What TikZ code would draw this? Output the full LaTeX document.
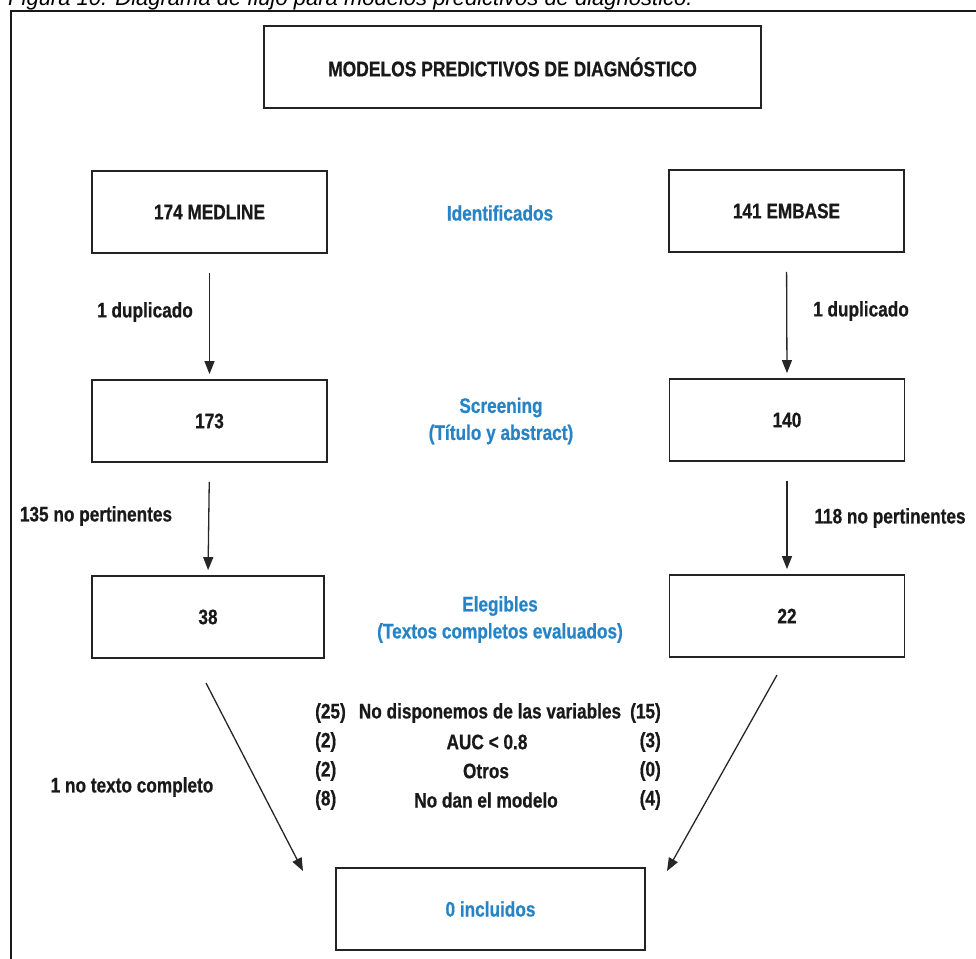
\documentclass[tikz,border=0pt]{standalone}
\usepackage{fontspec}
\setmainfont{Liberation Sans}
\newfontfamily\narfam[FakeStretch=0.82, BoldFeatures={FakeBold=0.6}]{Liberation Sans}
\usetikzlibrary{arrows.meta}
\definecolor{hblue}{RGB}{38,132,198}
\definecolor{bline}{RGB}{35,35,35}
\newcommand\myfnt{\narfam\fontsize{21}{27}\selectfont\bfseries}
\tikzset{
  box/.style={draw=bline, line width=1.8pt, minimum width=235pt, minimum height=82pt, inner sep=0pt, font=\myfnt, text=black!90},
  phase/.style={font=\myfnt, text=hblue, align=center, inner sep=0pt},
  lab/.style={font=\myfnt, text=black!90, inner sep=0pt},
  arr/.style={draw=black!85, line width=1.3pt, -{Triangle[length=13pt,width=10pt]}},
  varr/.style={arr, shorten <=19pt, shorten >=5pt},
}
\begin{document}
\begin{tikzpicture}[x=1pt,y=-1pt]
\useasboundingbox (0,0) rectangle (976,958);
% caption and frame
\node[anchor=base west, inner sep=0pt, font=\fontsize{22}{26}\selectfont\itshape] (cap) at (8,6) {Figura 10. Diagrama de flujo para modelos predictivos de diagnóstico.};
\draw[line width=2pt, black!90] (11,1000) -- (11,11) -- (1000,11);
% title
\node[box, minimum width=497pt, minimum height=82pt, font=\narfam\fontsize{21.3}{27}\selectfont\bfseries] (title) at (512.5,67) {MODELOS PREDICTIVOS DE DIAGNÓSTICO};
% row 1
\node[box] (med) at (209.5,212) {174 MEDLINE};
\node[box] (emb) at (786.5,211) {141 EMBASE};
\node[phase] (ident) at (500,213) {Identificados};
% row 2
\node[box] (l2) at (209.5,421) {173};
\node[box] (r2) at (787,420) {140};
\node[phase] (scr) at (501,421) {Screening\\(Título y abstract)};
% row 3
\node[box, minimum width=232pt] (l3) at (208,617) {38};
\node[box] (r3) at (787,616) {22};
\node[phase] (eleg) at (500,619.5) {Elegibles\\(Textos completos evaluados)};
% vertical arrows
\draw[varr] (med.south) -- (l2.north);
\draw[varr] (emb.south) -- (r2.north);
\draw[varr] (l2.south) -- (l3.north);
\draw[varr] (r2.south) -- (r3.north);
\node[lab] (dupl) at (145,312) {1 duplicado};
\node[lab] (dupr) at (861,311) {1 duplicado};
\node[lab] (perl) at (96,516) {135 no pertinentes};
\node[lab] (perr) at (890,518) {118 no pertinentes};
% exclusions
\node[lab, anchor=west] (e1l) at (315,713) {(25)};
\node[lab] (e1m) at (490,713) {No disponemos de las variables};
\node[lab, anchor=east] (e1r) at (661,713) {(15)};
\node[lab, anchor=west] (e2l) at (315,742) {(2)};
\node[lab] (e2m) at (487,742) {AUC < 0.8};
\node[lab, anchor=east] (e2r) at (661,742) {(3)};
\node[lab, anchor=west] (e3l) at (315,771) {(2)};
\node[lab] (e3m) at (486,771) {Otros};
\node[lab, anchor=east] (e3r) at (661,771) {(0)};
\node[lab, anchor=west] (e4l) at (315,800) {(8)};
\node[lab] (e4m) at (486,800) {No dan el modelo};
\node[lab, anchor=east] (e4r) at (661,800) {(4)};
\node[lab] (ntc) at (132,787) {1 no texto completo};
% final box
\node[box, minimum width=309pt] (inc) at (490.5,909) {\textcolor{hblue}{0 incluidos}};
% diagonal arrows
\coordinate (dls) at (206,683);
\coordinate (dle) at (303,871);
\coordinate (drs) at (777,675);
\coordinate (dre) at (667,871);
\draw[arr] (dls) -- (dle);
\draw[arr] (drs) -- (dre);
\end{tikzpicture}
\end{document}
